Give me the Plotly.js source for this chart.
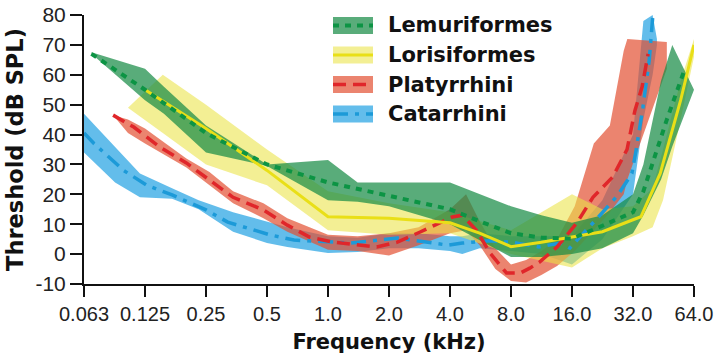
<!DOCTYPE html>
<html>
<head>
<meta charset="utf-8">
<script src="https://cdn.plot.ly/plotly-3.0.1.min.js"></script>
<style>
html,body{margin:0;padding:0;background:#fff;}
#chart{width:717px;height:358px;}
</style>
</head>
<body>
<div id="chart"></div>
<script>
// ---------- DATA ----------
const seriesNames = ["Lemuriformes", "Lorisiformes", "Platyrrhini", "Catarrhini"];
const tickVals = [0.0625, 0.125, 0.25, 0.5, 1, 2, 4, 8, 16, 32, 64];
const tickText = ["0.063", "0.125", "0.25", "0.5", "1.0", "2.0", "4.0", "8.0", "16.0", "32.0", "64.0"];
const yTickVals = [-10, 0, 10, 20, 30, 40, 50, 60, 70, 80];
const yTickText = ["-10", "0", "10", "20", "30", "40", "50", "60", "70", "80"];

// Lemuriformes
const lemLineF = [0.068, 0.125, 0.25, 0.5, 1.0, 2.0, 4.0, 5.6, 8.0, 11.3, 16, 22.6, 32, 36, 42, 47, 57];
const lemLineV = [67, 55, 40.5, 30, 24, 19.5, 15, 11, 7, 5.5, 5.2, 9.5, 14, 21, 35, 45, 61];
const lemBandF = [0.068, 0.125, 0.155, 0.25, 0.5, 1.0, 1.4, 2.0, 4.0, 8.0, 11.3, 16, 22.6, 32, 36, 44, 50, 64];
const lemUpper = [67.5, 62, 56, 43, 30, 31.5, 24, 24, 24, 16, 13, 10.5, 13, 20, 30, 58, 70, 55];
const lemLower = [67, 51.5, 47, 34, 29.5, 18, 17.5, 16, 10, -1, -1, 0, 2, 7, 13, 25, 36, 55];

// Lorisiformes
const lorLineF = [0.125, 0.25, 0.5, 0.71, 1.0, 2.0, 4.0, 5.6, 8.0, 11.3, 16, 22.6, 32, 35, 43.6, 55, 64];
const lorLineV = [55, 42, 28, 20, 12.5, 12, 10.5, 7, 2.5, 4, 5.7, 7.5, 11.5, 12.5, 27, 51.5, 70];
const lorBandF = [0.103, 0.153, 0.25, 0.5, 1.0, 2.0, 4.0, 8.0, 16, 22.6, 32, 40, 45, 55, 64];
const lorUpper = [49, 60, 50, 35, 21, 17, 14, 8, 20, 15, 16, 22, 35, 58, 72];
const lorLower = [49, 40.5, 30, 23, 8, 6.5, 7, 0, -4.5, 2, 6, 9, 18, 45, 66];

// Platyrrhini
const plaLineF = [0.087, 0.11, 0.148, 0.2, 0.26, 0.34, 0.48, 0.63, 0.81, 1.06, 1.74, 2.2, 2.85, 4.1, 4.6, 5.4, 6.3, 7.6, 8.9, 9.9, 11.1, 13.5, 16.9, 20.3, 25.4, 29.9, 32.7, 35.5, 38];
const plaLineV = [46.5, 42.5, 35.8, 30.5, 24.8, 19, 14.8, 9.7, 5.7, 4, 2.4, 4, 7.4, 12.4, 13, 8, 0.4, -6.3, -6.3, -4.7, -2.6, 2.4, 10.4, 19, 25.8, 35, 48, 56, 67];
const plaBandF = [0.087, 0.103, 0.125, 0.2, 0.26, 0.34, 0.48, 0.63, 1.0, 1.4, 2.0, 2.8, 4.0, 4.8, 5.6, 6.7, 8.0, 9.5, 11.3, 13.5, 16.5, 20.5, 24.6, 28.8, 30, 47];
const plaUpper = [46.5, 45, 42, 32, 27.5, 21, 17, 12, 6.5, 6, 7, 9, 15, 20, 11, 2, -3.5, -2, 1, 5, 16, 37, 43, 68, 72, 71];
const plaLower = [46.5, 40.5, 37, 29, 23, 17, 12, 7.5, 1.5, 1, -0.5, 3, 7, 8, 3, -5, -9, -9.5, -7, -4, 1, 8, 14, 20, 25, 62];

// Catarrhini
const catLineF = [0.0625, 0.07, 0.098, 0.128, 0.17, 0.25, 0.32, 0.52, 0.68, 0.98, 1.3, 2.2, 3.0, 3.9, 4.6, 6.3, 8, 11, 14, 15.6, 22, 27, 31.6, 33, 35.8, 38.5, 40];
const catLineV = [40.5, 37, 28, 23, 19.8, 14.8, 10.7, 6.4, 4.7, 4, 3.7, 5.4, 4, 3, 3.7, 4.5, 4, 2.4, 3.7, 2, 13, 19.8, 27, 34, 49, 65, 79];
const catBandF = [0.0625, 0.089, 0.118, 0.17, 0.23, 0.34, 0.5, 0.63, 1.0, 1.4, 2.0, 2.8, 4.0, 4.6, 5.6, 8, 11.3, 16, 22.6, 32, 36, 40, 42];
const catUpper = [47, 36, 27, 22, 18, 14, 11, 9, 6, 5.5, 7, 7, 6, 6, 7, 6, 6, 6, 18, 40, 78, 80, 72];
const catLower = [34, 24, 19, 18.5, 15, 7.5, 3.7, 2.4, 0.4, 0.7, 2, 2, 1, 0, 2, 1, 0, -3.5, 5, 20, 45, 60, 70];

// ---------- STYLE ----------
const bandFill = ["rgba(25,140,70,0.72)", "rgba(235,228,70,0.58)", "rgba(226,80,50,0.7)", "rgba(55,170,230,0.78)"];
const lineColor = ["#0c9444", "#e9df17", "#e0262a", "#1c9ad8"];
const lineDash = ["6px,6px", "solid", "13px,7px", "15px,7px,4px,7px"];
const lineWidth = [4, 3, 3.5, 3.5];
const boldFont = "DejaVu Sans, Verdana, sans-serif";
const tickFontFam = "Liberation Sans, Arial, sans-serif";

function band(f, up, lo, i) {
  return {
    type: "scatter", mode: "lines",
    x: f.concat(f.slice().reverse()),
    y: up.concat(lo.slice().reverse()),
    fill: "toself", fillcolor: bandFill[i],
    line: {width: 0, color: bandFill[i]},
    hoverinfo: "skip", showlegend: false
  };
}
function mean(f, v, i) {
  return {
    type: "scatter", mode: "lines", x: f, y: v, name: seriesNames[i],
    line: {color: lineColor[i], width: lineWidth[i], dash: lineDash[i]},
    showlegend: false
  };
}

const traces = [
  band(catBandF, catUpper, catLower, 3),
  band(plaBandF, plaUpper, plaLower, 2),
  band(lorBandF, lorUpper, lorLower, 1),
  band(lemBandF, lemUpper, lemLower, 0),
  mean(catLineF, catLineV, 3),
  mean(plaLineF, plaLineV, 2),
  mean(lorLineF, lorLineV, 1),
  mean(lemLineF, lemLineV, 0)
];

// ---------- LAYOUT ----------
const W = 717, H = 358;
const mL = 84, mR = 23, mT = 15, mB = 74;
const pw = W - mL - mR, ph = H - mT - mB;
const px = x => (x - mL) / pw;
const py = y => (H - mB - y) / ph;

const shapes = [], annotations = [];
const rowY = [25.5, 55, 84.5, 114];
for (let i = 0; i < 4; i++) {
  shapes.push({type: "rect", xref: "paper", yref: "paper",
    x0: px(333), x1: px(373), y0: py(rowY[i] + 8.5), y1: py(rowY[i] - 8.5),
    fillcolor: bandFill[i], line: {width: 0}});
  shapes.push({type: "line", xref: "paper", yref: "paper",
    x0: px(333), x1: px(373), y0: py(rowY[i]), y1: py(rowY[i]),
    line: {color: lineColor[i], width: lineWidth[i], dash: lineDash[i]}});
  annotations.push({xref: "paper", yref: "paper", x: px(386), y: py(rowY[i]),
    xanchor: "left", yanchor: "middle", showarrow: false,
    text: "<b>" + seriesNames[i] + "</b>",
    font: {family: boldFont, size: 21, color: "#111"}});
}

const layout = {
  width: W, height: H,
  margin: {l: mL, r: mR, t: mT, b: mB, pad: 0},
  paper_bgcolor: "#fff", plot_bgcolor: "#fff",
  showlegend: false,
  xaxis: {
    type: "log",
    range: [Math.log10(0.0625), Math.log10(64)],
    tickmode: "array", tickvals: tickVals, ticktext: tickText,
    ticks: "outside", ticklen: 11, tickwidth: 2, tickcolor: "#111",
    showline: true, linewidth: 2, linecolor: "#111",
    showgrid: false, zeroline: false,
    tickfont: {family: tickFontFam, size: 20, color: "#222"},
    title: {text: "<b>Frequency (kHz)</b>", standoff: 10,
      font: {family: boldFont, size: 21, color: "#111"}}
  },
  yaxis: {
    range: [-10, 80],
    tickmode: "array", tickvals: yTickVals, ticktext: yTickText,
    ticks: "outside", ticklen: 12, tickwidth: 2, tickcolor: "#111",
    showline: true, linewidth: 2, linecolor: "#111",
    showgrid: false, zeroline: false,
    tickfont: {family: tickFontFam, size: 21, color: "#222"},
    title: {text: "<b>Threshold (dB SPL)</b>", standoff: 6,
      font: {family: boldFont, size: 22.5, color: "#111"}}
  },
  shapes: shapes,
  annotations: annotations
};

Plotly.newPlot("chart", traces, layout, {staticPlot: true, displayModeBar: false});
</script>
</body>
</html>
